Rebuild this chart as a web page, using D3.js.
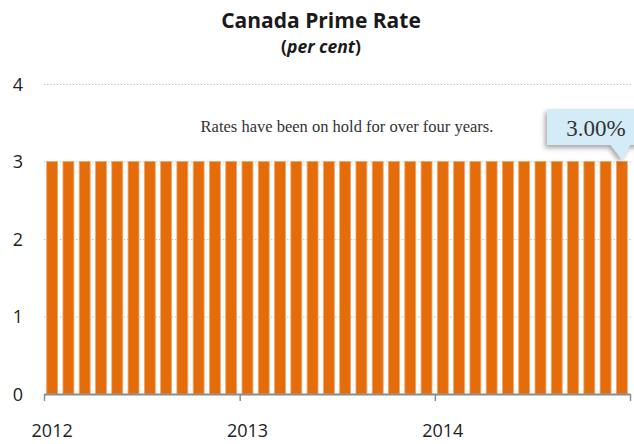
<!DOCTYPE html>
<html><head><meta charset="utf-8">
<script src="https://cdn.jsdelivr.net/npm/d3@7"></script>
<style>
html,body{margin:0;padding:0;background:#fff;}
svg{display:block;}
</style></head>
<body>
<svg id="c" width="634" height="444"></svg>
<script>
const months = [
 "2012-01","2012-02","2012-03","2012-04","2012-05","2012-06","2012-07","2012-08","2012-09","2012-10","2012-11","2012-12",
 "2013-01","2013-02","2013-03","2013-04","2013-05","2013-06","2013-07","2013-08","2013-09","2013-10","2013-11","2013-12",
 "2014-01","2014-02","2014-03","2014-04","2014-05","2014-06","2014-07","2014-08","2014-09","2014-10","2014-11","2014-12"];
const primeRate = [3,3,3,3,3,3,3,3,3,3,3,3, 3,3,3,3,3,3,3,3,3,3,3,3, 3,3,3,3,3,3,3,3,3,3,3,3];
const yearTicks = ["2012","2013","2014","2015"];
const yearLabels = ["2012","2013","2014"];
const yTicks = [0,1,2,3,4];
const titleText = "Canada Prime Rate";
const noteText = "Rates have been on hold for over four years.";
const calloutText = "3.00%";

const svg = d3.select("#c");
const pLeft = 44, pRight = 630, pTop = 84, pBottom = 394;

const x = d3.scaleBand().domain(months).range([pLeft, pRight]).paddingInner(0.33).paddingOuter(0.165);
const xt = d3.scaleTime().domain([new Date(2012,0,1), new Date(2015,0,1)]).range([pLeft, pRight]);
const y = d3.scaleLinear().domain([0,4]).range([pBottom, pTop]);

const defs = svg.append("defs");
const f = defs.append("filter").attr("id","sh").attr("x","-20%").attr("y","-20%").attr("width","150%").attr("height","160%");
f.append("feDropShadow").attr("dx",-2).attr("dy",3).attr("stdDeviation",2.5).attr("flood-color","#000").attr("flood-opacity",0.35);

// gridlines
svg.append("g").selectAll("line").data(yTicks.filter(d=>d>0)).join("line")
  .attr("x1", pLeft).attr("x2", pRight+2).attr("y1", d=>y(d)+0.5).attr("y2", d=>y(d)+0.5)
  .attr("stroke","#b8b8b8").attr("stroke-width",1).attr("stroke-dasharray","1.2,2");

// bars
svg.append("g").selectAll("rect").data(months).join("rect")
  .attr("x", d=>x(d)).attr("width", x.bandwidth())
  .attr("y", (d,i)=>y(primeRate[i])).attr("height", (d,i)=>y(0)-y(primeRate[i]))
  .attr("fill","#E46C0A").attr("stroke","#F3A56A").attr("stroke-width",0.8);

// x axis
const xAxis = svg.append("g").attr("transform",`translate(0,${pBottom})`)
  .call(d3.axisBottom(xt).tickValues(yearTicks.map(s=>new Date(+s,0,1))).tickSize(7).tickSizeOuter(0).tickFormat(""));
xAxis.select(".domain").attr("stroke","#8c8c8c").attr("stroke-width",2);
xAxis.selectAll(".tick line").attr("stroke","#8c8c8c").attr("stroke-width",1.5);

svg.append("g").selectAll("text").data(yearLabels).join("text")
  .attr("x", d=>x(d+"-01")+x.bandwidth()/2).attr("y", 437)
  .attr("text-anchor","middle").attr("font-family","'Open Sans', sans-serif").attr("font-size",18)
  .attr("fill","#222").text(d=>d);

// y labels
svg.append("g").selectAll("text").data(yTicks).join("text")
  .attr("x", 23).attr("y", d=>y(d)+6.5)
  .attr("text-anchor","end").attr("font-family","'Open Sans', sans-serif").attr("font-size",18)
  .attr("fill","#222").text(d=>d);

// title
svg.append("text").attr("x",321).attr("y",28).attr("text-anchor","middle")
  .attr("font-family","'Open Sans', sans-serif").attr("font-weight","bold").attr("font-size",21)
  .attr("fill","#1a1a1a").text(titleText);
const sub = svg.append("text").attr("x",321).attr("y",53).attr("text-anchor","middle")
  .attr("font-family","'Open Sans', sans-serif").attr("font-weight","bold").attr("font-size",17.5).attr("fill","#1a1a1a");
sub.append("tspan").text("(");
sub.append("tspan").attr("font-style","italic").text("per cent");
sub.append("tspan").text(")");

// note
svg.append("text").attr("x",347).attr("y",132).attr("text-anchor","middle")
  .attr("font-family","'Liberation Serif', serif").attr("font-size",16.5).attr("fill","#333").text(noteText);

// callout
const lastM = months[months.length-1];
const tipX = x(lastM)+x.bandwidth()/2, tipY = y(primeRate[primeRate.length-1]) - 2;
const bx0 = 547, by0 = 109, bx1 = 640, by1 = 145;
svg.append("path")
  .attr("d", `M${bx0},${by0} H${bx1} V${by1} H${tipX+8} L${tipX},${tipY} L${tipX-11},${by1} H${bx0} Z`)
  .attr("fill","#D3ECF8").attr("filter","url(#sh)");
svg.append("text").attr("x",596).attr("y",136).attr("text-anchor","middle")
  .attr("font-family","'Liberation Serif', serif").attr("font-size",23).attr("fill","#333").text(calloutText);
</script>
</body></html>
